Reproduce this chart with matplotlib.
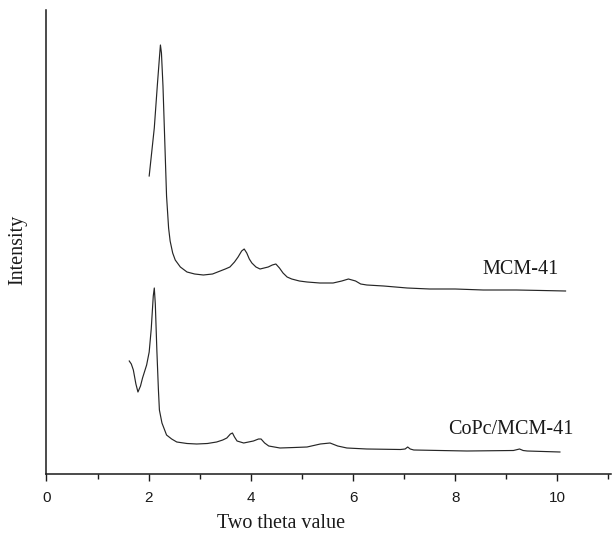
import matplotlib
matplotlib.use("Agg")
import matplotlib.pyplot as plt
from matplotlib.ticker import MultipleLocator

# MCM-41 pattern (2theta, intensity a.u.)
mcm_x = [2.01, 2.06, 2.11, 2.17, 2.21, 2.23, 2.25, 2.28, 2.31, 2.35, 2.39, 2.42, 2.47, 2.52,
         2.62, 2.75, 2.90, 3.07, 3.25, 3.40, 3.50, 3.59, 3.68, 3.75, 3.82, 3.87, 3.92,
         3.97, 4.02, 4.10, 4.18, 4.26, 4.34, 4.42, 4.49, 4.56, 4.63, 4.71, 4.80, 4.95,
         5.10, 5.35, 5.61, 5.78, 5.91, 6.05, 6.15, 6.27, 6.60, 7.06, 7.50, 8.00, 8.55,
         9.20, 9.70, 10.16]
mcm_y = [298, 322, 346, 389, 416, 429, 421, 388, 341, 278, 246, 233, 221, 214,
         207, 202, 200, 199, 200, 203, 205, 207, 212, 217, 223, 225, 221,
         215, 211, 207, 205, 206, 207, 209, 210, 206, 201, 197, 195, 193,
         192, 191, 191, 193, 195, 193, 190, 189, 188, 186, 185, 185, 184,
         184, 183.5, 183]

# CoPc/MCM-41 pattern
copc_x = [1.62, 1.66, 1.70, 1.75, 1.79, 1.84, 1.88, 1.96, 2.01, 2.05, 2.09, 2.11, 2.13,
          2.16, 2.19, 2.21, 2.26, 2.35, 2.45, 2.55, 2.75, 2.94, 3.15, 3.33, 3.45, 3.53,
          3.60, 3.64, 3.68, 3.73, 3.86, 4.05, 4.15, 4.20, 4.27, 4.35, 4.57, 4.85, 5.10,
          5.36, 5.55, 5.70, 5.88, 6.27, 6.93, 7.02, 7.07, 7.12, 7.19, 7.70, 8.23, 9.14,
          9.22, 9.26, 9.33, 9.41, 10.05]
copc_y = [113, 110, 104, 90, 82, 88, 96, 109, 122, 145, 178, 186, 170,
          124, 85, 64, 51, 39, 35, 32, 30.5, 30, 30.5, 32, 34, 36,
          40, 41, 37, 33, 31, 33, 35, 35, 31, 28, 26, 26.5, 27,
          30, 31, 28, 26, 25, 24.5, 25, 27, 25, 24, 23.5, 23, 23.5,
          24.5, 25, 23.5, 23, 22]

series_labels = ["MCM-41", "CoPc/MCM-41"]
xticks = [0, 2, 4, 6, 8, 10]

W, H = 612, 535
fig = plt.figure(figsize=(W / 100, H / 100), dpi=100)
ax = fig.add_axes([46.5 / W, (H - 474) / H, (611 - 46.5) / W, (474 - 10) / H])

line_color = "#262626"
ax.plot(mcm_x, mcm_y, color=line_color, lw=0.85)
ax.plot(copc_x, copc_y, color=line_color, lw=0.85)

ax.set_xlim(0, 11.05)
ax.set_ylim(0, 464)

serif = ["Liberation Serif", "DejaVu Serif"]
sans = ["Liberation Sans", "DejaVu Sans"]

ax.text(9.27, 205, series_labels[0], ha="center", va="center", fontsize=14.5,
        family=serif, color="#1a1a1a")
ax.text(9.09, 44, series_labels[1], ha="center", va="center", fontsize=14.5,
        family=serif, color="#1a1a1a")

for s in ["top", "right"]:
    ax.spines[s].set_visible(False)
for s in ["left", "bottom"]:
    ax.spines[s].set_linewidth(1.1)
    ax.spines[s].set_color("#1a1a1a")

ax.set_xticks(xticks)
ax.set_xticklabels([str(t) for t in xticks], family=sans, fontsize=11, color="#1a1a1a")
ax.xaxis.set_minor_locator(MultipleLocator(1))
ax.tick_params(axis="x", which="major", direction="out", length=5, width=1.0, pad=7,
               color="#1a1a1a")
ax.tick_params(axis="x", which="minor", direction="out", length=3.5, width=1.0,
               color="#1a1a1a")
ax.set_yticks([])

fig.text(281 / W, 1 - 524 / H, "Two theta value", ha="center", va="center",
         fontsize=14.5, family=serif, color="#1a1a1a")
fig.text(18 / W, 1 - 250 / H, "Intensity", ha="center", va="center", rotation=90,
         fontsize=14.5, family=serif, color="#1a1a1a")

fig.savefig("out.png", dpi=100)
